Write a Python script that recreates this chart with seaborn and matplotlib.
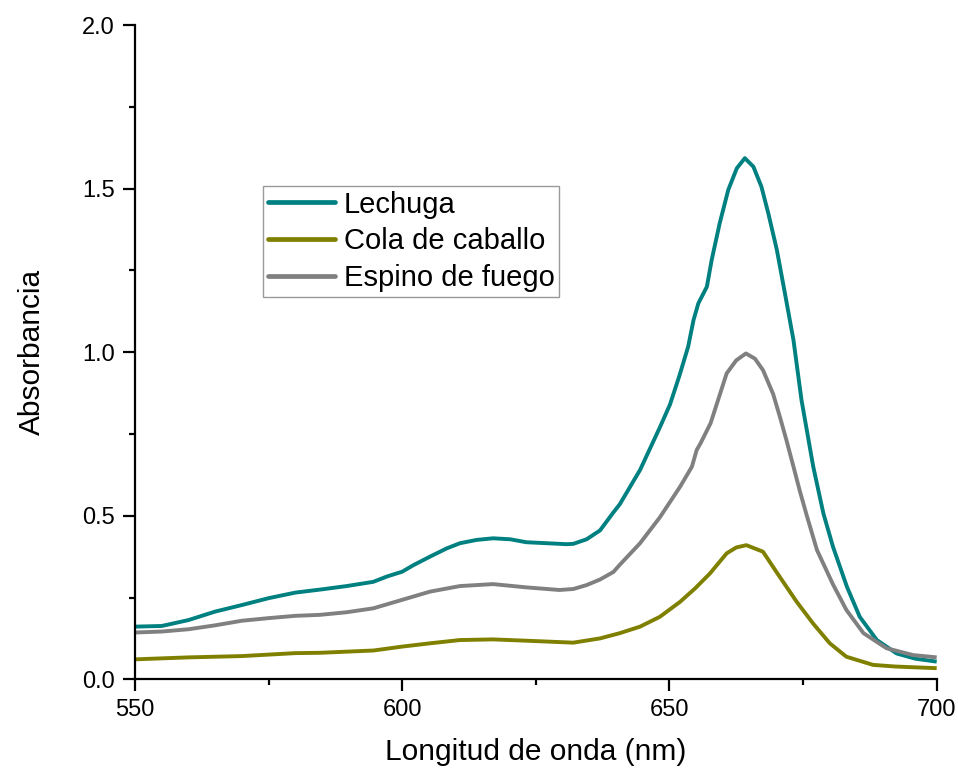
import matplotlib
matplotlib.use("Agg")
import matplotlib.pyplot as plt
import seaborn as sns
import pandas as pd
from matplotlib.ticker import MultipleLocator

# ---- data ----
series_names = ["Lechuga", "Cola de caballo", "Espino de fuego"]
series_colors = ["#008080", "#808000", "#808080"]

lechuga_x = [550, 555, 560, 565, 570, 575, 580, 585, 589.6, 594.6, 597.1, 600, 602.1,
             605.2, 608.3, 610.8, 613.9, 617, 620.2, 623.2, 627, 630.7, 632, 634.5,
             635.7, 637, 639.5, 640.7, 644.5, 648.2, 650.1, 651.9, 653.5, 654.5,
             655.4, 657.0, 657.9, 659.4, 661.0, 662.6, 664.1, 665.7, 667.2, 668.5,
             670.1, 671.6, 673.2, 674.7, 676.9, 678.8, 680.6, 683.2, 685.6, 688.8,
             692.5, 696, 700]
lechuga_y = [0.161, 0.163, 0.181, 0.207, 0.227, 0.248, 0.265, 0.275, 0.285, 0.298,
             0.314, 0.329, 0.349, 0.375, 0.40, 0.416, 0.426, 0.431, 0.428, 0.419,
             0.416, 0.413, 0.414, 0.428, 0.441, 0.455, 0.51, 0.535, 0.64, 0.77, 0.84,
             0.93, 1.017, 1.098, 1.149, 1.2, 1.282, 1.394, 1.496, 1.562, 1.593, 1.567,
             1.506, 1.424, 1.312, 1.18, 1.037, 0.854, 0.65, 0.507, 0.405, 0.283,
             0.191, 0.12, 0.079, 0.063, 0.054]

cola_x = [550, 560, 570, 580, 584.6, 594.6, 600, 605.2, 610.8, 617, 623.2, 632, 637,
          640.7, 644.5, 648.2, 652.0, 654.8, 657.6, 660.7, 662.5, 664.4, 667.5, 670.1,
          673.8, 676.9, 680.0, 683.1, 688.1, 692.3, 700]
cola_y = [0.061, 0.067, 0.071, 0.08, 0.081, 0.088, 0.10, 0.11, 0.12, 0.122, 0.118,
          0.112, 0.125, 0.141, 0.161, 0.191, 0.237, 0.278, 0.324, 0.385, 0.403, 0.41,
          0.39, 0.326, 0.237, 0.17, 0.11, 0.069, 0.044, 0.039, 0.034]

espino_x = [550, 555, 560, 565, 570, 575, 580, 584.6, 589.6, 594.6, 600, 605.2, 610.8,
            617, 623.2, 629.4, 632, 634.5, 637, 639.5, 640.7, 644.5, 648.2, 652.0,
            654.2, 655.1, 655.8, 657.7, 659.1, 660.7, 662.5, 664.3, 666, 667.5, 669.4,
            670.7, 671.9, 673.2, 674.4, 675.7, 677.6, 680.6, 683.1, 686.3, 690.6,
            695.6, 700]
espino_y = [0.143, 0.146, 0.153, 0.165, 0.179, 0.187, 0.194, 0.197, 0.205, 0.217,
            0.243, 0.268, 0.285, 0.291, 0.281, 0.273, 0.276, 0.288, 0.305, 0.328,
            0.35, 0.416, 0.495, 0.589, 0.65, 0.701, 0.721, 0.783, 0.854, 0.935,
            0.975, 0.996, 0.98, 0.945, 0.872, 0.80, 0.73, 0.65, 0.575, 0.50, 0.395,
            0.29, 0.212, 0.141, 0.095, 0.074, 0.067]

x_label = "Longitud de onda (nm)"
y_label = "Absorbancia"
x_ticks = [550, 600, 650, 700]
y_ticks = [0.0, 0.5, 1.0, 1.5, 2.0]

# ---- build long table ----
frames = []
for name, xs, ys in zip(series_names,
                        [lechuga_x, cola_x, espino_x],
                        [lechuga_y, cola_y, espino_y]):
    frames.append(pd.DataFrame({"x": xs, "y": ys, "serie": name}))
df = pd.concat(frames, ignore_index=True)

sns.set_theme(style="ticks")
plt.rcParams["font.family"] = ["Liberation Sans", "DejaVu Sans"]
plt.rcParams["text.color"] = "black"
plt.rcParams["axes.labelcolor"] = "black"
plt.rcParams["xtick.color"] = "black"
plt.rcParams["ytick.color"] = "black"

fig = plt.figure(figsize=(9.58, 7.74), dpi=100)
ax = fig.add_axes([135 / 958, 1 - 679.3 / 774, (936.7 - 135) / 958, (679.3 - 25) / 774])

sns.lineplot(data=df, x="x", y="y", hue="serie", hue_order=series_names,
             palette=dict(zip(series_names, series_colors)), estimator=None,
             sort=False, linewidth=2.8, ax=ax, legend=True)
for line in ax.get_lines():
    line.set_solid_joinstyle("round")
    line.set_solid_capstyle("butt")

ax.set_xlim(550, 700)
ax.set_ylim(0, 2.0)
ax.set_xticks(x_ticks)
ax.set_xticklabels([str(t) for t in x_ticks])
ax.set_yticks(y_ticks)
ax.set_yticklabels([f"{t:.1f}" for t in y_ticks])
ax.xaxis.set_minor_locator(MultipleLocator(25))
ax.yaxis.set_minor_locator(MultipleLocator(0.25))

for s in ["top", "right"]:
    ax.spines[s].set_visible(False)
for s in ["left", "bottom"]:
    ax.spines[s].set_linewidth(1.6)
    ax.spines[s].set_color("black")

ax.tick_params(axis="both", which="major", length=8.5, width=1.6, labelsize=17,
               pad=6, colors="black")
ax.tick_params(axis="both", which="minor", length=4.3, width=1.6, colors="black")

ax.set_xlabel(x_label, fontsize=21.5, labelpad=12, color="black")
ax.set_ylabel(y_label, fontsize=21.5, labelpad=26, color="black")

leg = ax.legend(loc="upper left", bbox_to_anchor=(263 / 958, 1 - 186 / 774),
                bbox_transform=fig.transFigure, borderaxespad=0, fontsize=21,
                frameon=True, fancybox=False, edgecolor="#808080",
                handlelength=2.3, handletextpad=0.3, labelspacing=0.3,
                borderpad=0.16, title=None)
leg.get_frame().set_linewidth(1.0)
for line in leg.get_lines():
    line.set_linewidth(3.4)
    line.set_solid_capstyle("round")
for t in leg.get_texts():
    t.set_color("black")

fig.savefig("out.png", dpi=100, facecolor="white")
